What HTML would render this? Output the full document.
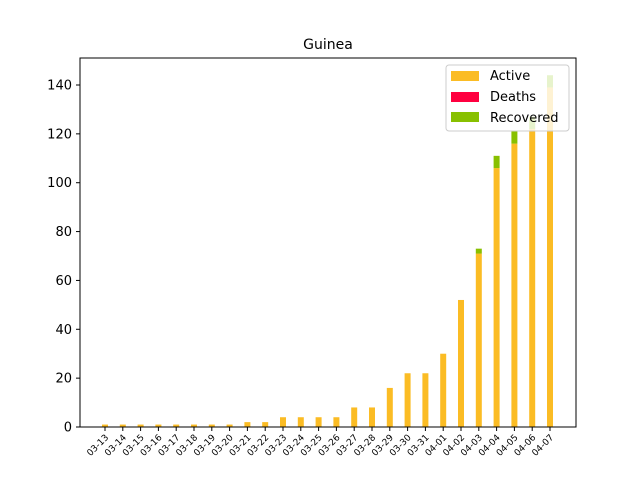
<!DOCTYPE html>
<html><head><meta charset="utf-8"><style>
body{margin:0;background:#fff;}
svg text{font-family:"DejaVu Sans","Liberation Sans",sans-serif;}
</style></head><body>
<svg id="chart" width="640" height="480" xmlns="http://www.w3.org/2000/svg">
<rect width="640" height="480" fill="#fff"/>
<text x="328" y="49" font-size="14" text-anchor="middle">Guinea</text>
<g id="bars"></g>
<g id="yaxis"></g>
<g id="xaxis"></g>
<rect x="80" y="58" width="496" height="369" fill="none" stroke="#000" stroke-width="1"/>
<g>
<rect x="446" y="65" width="123" height="66" rx="3" fill="#fff" fill-opacity="0.8" stroke="#ccc"/>
<rect x="451" y="71" width="28" height="10" fill="#fbbc24"/>
<text x="490" y="80" font-size="13">Active</text>
<rect x="451" y="92" width="28" height="10" fill="#ff0040"/>
<text x="490" y="101" font-size="13">Deaths</text>
<rect x="451" y="112" width="28" height="10" fill="#88c000"/>
<text x="490" y="122" font-size="13">Recovered</text>
</g>
</svg>
<script>
const dates=["03-13","03-14","03-15","03-16","03-17","03-18","03-19","03-20","03-21","03-22","03-23","03-24","03-25","03-26","03-27","03-28","03-29","03-30","03-31","04-01","04-02","04-03","04-04","04-05","04-06","04-07"];
const active=[1,1,1,1,1,1,1,1,2,2,4,4,4,4,8,8,16,22,22,30,52,71,106,116,122,139];
const deaths=[0,0,0,0,0,0,0,0,0,0,0,0,0,0,0,0,0,0,0,0,0,0,0,0,0,0];
const recovered=[0,0,0,0,0,0,0,0,0,0,0,0,0,0,0,0,0,0,0,0,0,2,5,5,5,5];
const yTicks=[0,20,40,60,80,100,120,140];
const NS="http://www.w3.org/2000/svg";
const x0=105,dx=17.8,bw=6;
function xs(i){return x0+i*dx;}
function ys(v){return 427-v*(342/140);}
function mk(tag,attrs,parent){const e=document.createElementNS(NS,tag);for(const k in attrs)e.setAttribute(k,attrs[k]);parent.appendChild(e);return e;}
const bars=document.getElementById('bars'),ya=document.getElementById('yaxis'),xa=document.getElementById('xaxis');
dates.forEach((d,i)=>{
  const x=xs(i)-bw/2;
  let base=0;
  const segs=[[active[i],'#fbbc24','active'],[deaths[i],'#ff0040','deaths'],[recovered[i],'#88c000','recovered']];
  segs.forEach(s=>{
    if(s[0]<=0)return;
    const r=mk('rect',{x:x,y:ys(base+s[0]),width:bw,height:ys(base)-ys(base+s[0]),fill:s[1]},bars);
    
    
    base+=s[0];
  });
  const t=mk('line',{x1:xs(i),x2:xs(i),y1:427,y2:431,stroke:'#000'},xa);
  
  
  const lb=mk('text',{x:xs(i)+4,y:438,'font-size':9,'text-anchor':'end',transform:'rotate(-45 '+(xs(i)+4)+' 438)'},xa);
  lb.textContent=d;
  
  
});
yTicks.forEach(v=>{
  const t=mk('line',{x1:76,x2:80,y1:ys(v),y2:ys(v),stroke:'#000'},ya);
  
  
  const lb=mk('text',{x:72,y:ys(v)+4.5,'font-size':13,'text-anchor':'end'},ya);
  lb.textContent=v;
  
  
});
</script>
</body></html>
